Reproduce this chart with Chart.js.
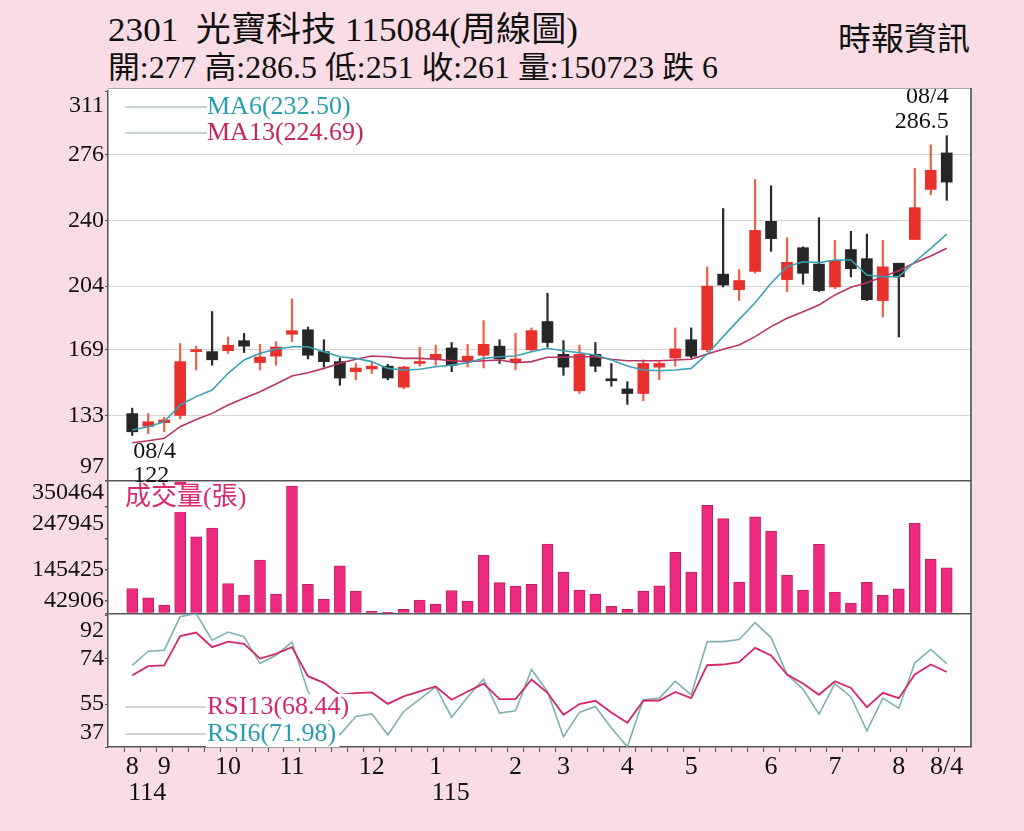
<!DOCTYPE html>
<html><head><meta charset="utf-8">
<script src="https://cdn.jsdelivr.net/npm/chart.js@4.4.1/dist/chart.umd.min.js"></script>
<style>
html,body{margin:0;padding:0;background:#f9dce6;}
body{width:1024px;height:831px;position:relative;overflow:hidden;font-family:"Liberation Serif","Noto Sans CJK TC",serif;}
#c{position:absolute;left:0;top:0;width:1024px;height:831px;}
.t{position:absolute;white-space:nowrap;color:#111;transform-origin:0 0;}
#t1{left:108px;top:11px;font-size:34px;line-height:38px;}
#t2{left:108px;top:50px;font-size:31px;line-height:36px;}
#t3{left:838px;top:20px;font-size:32px;line-height:38px;}
</style></head><body>
<div class="t" id="t1">2301&nbsp;&nbsp;光寶科技 115084(周線圖)</div>
<div class="t" id="t2">開:277 高:286.5 低:251 收:261 量:150723 跌 6</div>
<div class="t" id="t3">時報資訊</div>
<canvas id="c" width="1024" height="831"></canvas>
<script>
// ---- data (weekly, 114/08/04 .. 115/08/04) ----
const open  = [134,127,129,133,168,168,168.5,174,162,165.5,177.5,180,168,162.5,157,158.5,160,148.5,161.5,164,170,162.5,166,171,162.5,169,184.5,166.5,146.5,166.5,153,147.5,145,159.5,164.5,174.5,169,210.5,202,212,239.5,207.5,225,216,203.5,224,219,196,216.5,229.5,257,277];
const high  = [137,134,132,172.5,171,190,176,178,172,173.5,197,181.5,174.5,164.5,161.5,162.5,161,160,170.5,171.5,173,172,185,174.5,178,181,200,174,171.5,173,161.5,151.5,163.5,162.5,181,181,214.5,246.5,213,262.5,259,230.5,225.5,241.5,229,234,232.5,229,216.5,268.5,281.5,286.5];
const low   = [122,123,124,131,158,160.5,167,167.5,158,160.5,173.5,164,159.5,149.5,152.5,156,152.5,147.5,160,160.5,157,159.5,159,161.5,158,168,170.5,155,145,157,149,139,141,152.5,160,164.5,168,203.5,196,211,223,201,205,201,202.5,209,196,187,176,229.5,254,251];
const close = [124,129.5,130.5,162.5,169,163.5,171.5,171,165,170.5,179.5,166,162.5,153.5,159,160,153.5,159.5,162.5,166.5,160.5,165.5,172,164,164,179.5,173,159.5,166.5,160,152,145,161.5,161.5,169.5,165.5,204,204.5,207,234.5,230,217,211,201.5,218,213.5,196.5,214.5,209,247,267.5,261];
const ma6   = [125,126.8,129.5,138.7,143.3,146.9,156.1,163.4,167.1,169.3,170.7,170.7,167.9,165.2,164.3,162.5,158.8,157.9,158.3,159.7,160.6,161.9,164.3,165.2,165.6,167.9,169.8,168.5,167.4,166.1,163.4,160.1,157.9,157.5,157.9,158.8,166.7,176.2,185.7,194.8,205.5,214.6,217.3,216.8,218.3,218.3,210,209.1,209.1,217.3,224.7,232.5];
const ma13  = [118,119.1,120.4,126.8,130.8,134.1,138.7,142.4,146,150.2,154.6,156.4,158.8,161.6,163.8,165.6,165.2,164.3,164.3,163.8,163,162.5,163,163.4,161.9,162.5,164.9,164.9,165.2,165.2,163.8,163,163,163,163.4,163.8,166.7,169.3,171.6,176.2,181.7,186.3,189.9,193.6,199.1,203.3,205.8,209.1,212.4,216.8,220.5,224.69];
const volume= [82500,51500,27500,434000,253000,282000,99000,60000,176000,64000,420000,96000,47000,157000,74000,7600,5000,14000,44000,31000,76000,41000,192000,102000,90000,96000,229000,137000,77000,64000,24000,14000,74000,91000,202000,137000,357000,313000,104000,319000,272000,126000,77000,228000,71000,34000,103000,60000,81000,297000,179000,150723];
const rsi13 = [67.1,70.9,71.2,83.5,85,78.9,81.2,80.3,74.1,76.1,78.9,66.7,63.9,58.9,59.6,59.9,55.1,58.2,60.3,62.4,56.8,60.3,63.6,57.1,57.1,65.3,59.7,50.5,55,56.4,51.5,47.2,56.4,56.5,60.1,57.5,71.3,71.6,72.6,78.6,75.4,67.4,63.6,58.9,64.6,61.8,53.7,59.7,57.5,67.4,71.6,68.44];
const rsi6  = [71.2,77.2,77.6,91.7,93,81.8,85.2,83.3,72,75.5,81,60.3,51,42.1,49.8,50.9,42.1,51.9,57.1,62.2,49.5,58,65.4,51.2,52.2,69.5,60.3,41.3,51.5,54,45,37.1,56.8,57.5,64.5,58.9,81.2,81.2,82.1,89.2,82.9,67.4,61.3,50.8,63.6,58,43.8,57.5,53.2,72.3,77.9,71.98];

const priceTicks = [97,133,169,204,240,276,311];
const volTicks   = [42906,145425,247945,350464];
const rsiTicks   = [37,55,74,92];
const monthTickIdx = [0,2,6,10,15,19,24,27,31,35,40,44,48,51];
const monthLabels  = ['8','9','10','11','12','1','2','3','4','5','6','7','8','8/4'];
const yearTickIdx  = [0,19];
const yearLabels   = ['114','115'];
const lowNote  = ['08/4','122'];
const highNote = ['08/4','286.5'];
const maLegend  = ['MA6(232.50)','MA13(224.69)'];
const rsiLegend = ['RSI13(68.44)','RSI6(71.98)'];
const volLegend = '成交量(張)';

// ---- title fitting ----
function fitW(id,w){const el=document.getElementById(id);const r=el.getBoundingClientRect().width;el.style.transform='scaleX('+(w/r)+')';}
fitW('t1',470);fitW('t2',610);fitW('t3',132);

const FONT='"Liberation Serif","Noto Sans CJK TC",serif';
Chart.defaults.font.family=FONT;
Chart.defaults.color='#111';

const RED='#e8302c', BLK='#262626', REDW='#ee6347', BLKW='#2c2c2c';
const up = close.map((c,i)=>c>=open[i]);
const pts = arr => arr.map((v,i)=>({x:i,y:v}));

function edgeLabel(ticks){
  return v => v===ticks[ticks.length-1] ? ['',String(v)] : (v===ticks[0] ? [String(v),''] : String(v));
}

const overlay = {
  id:'overlay',
  beforeDraw(chart){
    const {ctx,chartArea:a}=chart;
    ctx.save();ctx.fillStyle='#fff';
    ctx.fillRect(a.left,a.top-3,a.right-a.left,a.bottom-a.top+3);
    ctx.restore();
  },
  afterDatasetsDraw(chart){
    const {ctx,chartArea:a,scales}=chart;
    const xs=scales.x, yP=scales.yP, yV=scales.yV, yR=scales.yR;
    ctx.save();
    ctx.textBaseline='middle';
    // MA legend
    const maCol=['#2a9db0','#c8245c'];
    [a.top+16,a.top+42].forEach((y,k)=>{
      ctx.strokeStyle='#b9c4c6';ctx.lineWidth=1.5;
      ctx.beginPath();ctx.moveTo(a.left+17,y);ctx.lineTo(a.left+99,y);ctx.stroke();
      ctx.font='26px '+FONT;ctx.fillStyle=maCol[k];ctx.textAlign='left';
      ctx.fillText(maLegend[k],a.left+99,y);
    });
    // low / high notes
    ctx.font='24px '+FONT;ctx.fillStyle='#111';
    const iLo=low.indexOf(Math.min(...low)), iHi=high.indexOf(Math.max(...high));
    const xl=xs.getPixelForValue(iLo), yl=yP.getPixelForValue(low[iLo]);
    ctx.textAlign='left';
    ctx.fillText(lowNote[0],xl+1,yl+16);ctx.fillText(lowNote[1],xl+1,yl+40);
    const xh=xs.getPixelForValue(iHi), yh=yP.getPixelForValue(high[iHi]);
    ctx.textAlign='right';
    ctx.fillText(highNote[0],xh+2,yh-39);ctx.fillText(highNote[1],xh+2,yh-14);
    // volume legend
    ctx.font='26px '+FONT;ctx.textAlign='left';
    let w=ctx.measureText(volLegend).width;
    ctx.fillStyle='#fff';ctx.fillRect(a.left+14,yV.top+4,w+6,27);
    ctx.fillStyle='#d82a6c';ctx.fillText(volLegend,a.left+17,yV.top+17);
    // RSI legend
    const rCol=['#d3296b','#2a9db0'];
    [yR.bottom-40,yR.bottom-13].forEach((y,k)=>{
      ctx.strokeStyle='#c4c4c4';ctx.lineWidth=1.5;
      ctx.beginPath();ctx.moveTo(a.left+17,y);ctx.lineTo(a.left+99,y);ctx.stroke();
      ctx.font='26px '+FONT;
      const tw=ctx.measureText(rsiLegend[k]).width;
      ctx.fillStyle='#fff';ctx.fillRect(a.left+98,y-13,tw+4,26);
      ctx.fillStyle=rCol[k];ctx.fillText(rsiLegend[k],a.left+99,y);
    });
    ctx.restore();
  },
  afterDraw(chart){
    const {ctx,chartArea:a,scales}=chart;
    ctx.save();
    ctx.strokeStyle='#a8a8a8';ctx.lineWidth=1;
    ctx.beginPath();ctx.moveTo(a.left,a.top-2.5);ctx.lineTo(a.right,a.top-2.5);ctx.stroke();
    ctx.strokeStyle='#444';ctx.lineWidth=1.5;
    ctx.beginPath();ctx.moveTo(a.right,a.top-3);ctx.lineTo(a.right,a.bottom);ctx.stroke();
    // year labels
    ctx.font='26px '+FONT;ctx.fillStyle='#111';ctx.textAlign='left';ctx.textBaseline='middle';
    yearTickIdx.forEach((ix,k)=>{
      ctx.fillText(yearLabels[k],scales.x.getPixelForValue(ix)-4,a.bottom+46);
    });
    ctx.restore();
  }
};

new Chart(document.getElementById('c'),{
  type:'bar',
  data:{datasets:[
    {type:'line',label:'MA6',data:pts(ma6),yAxisID:'yP',borderColor:'#3aa2b4',borderWidth:1.6,pointRadius:0,order:0},
    {type:'line',label:'MA13',data:pts(ma13),yAxisID:'yP',borderColor:'#b83462',borderWidth:1.6,pointRadius:0,order:0},
    {type:'bar',label:'body',data:open.map((o,i)=>({x:i,y:[o,close[i]]})),yAxisID:'yP',backgroundColor:up.map(u=>u?RED:BLK),barThickness:11,grouped:false,minBarLength:2,order:1},
    {type:'bar',label:'wick',data:low.map((l,i)=>({x:i,y:[l,high[i]]})),yAxisID:'yP',backgroundColor:up.map(u=>u?REDW:BLKW),barThickness:1.6,grouped:false,order:2},
    {type:'bar',label:'vol',data:pts(volume),yAxisID:'yV',backgroundColor:'#ee2a7e',borderColor:'#b8206a',borderWidth:1,barThickness:11,grouped:false,order:1},
    {type:'line',label:'RSI13',data:pts(rsi13),yAxisID:'yR',borderColor:'#d3296b',borderWidth:1.8,pointRadius:0,order:0},
    {type:'line',label:'RSI6',data:pts(rsi6),yAxisID:'yR',borderColor:'#7db1b3',borderWidth:1.6,pointRadius:0,order:0}
  ]},
  options:{
    responsive:false,animation:false,
    layout:{padding:{left:0,right:53,top:91,bottom:0}},
    plugins:{legend:{display:false},tooltip:{enabled:false}},
    scales:{
      x:{type:'linear',position:'bottom',min:-1,max:52,
        afterBuildTicks:s=>{s.ticks=close.map((_,i)=>({value:i}));},
        afterFit:s=>{s.height=84;},
        ticks:{autoSkip:false,maxRotation:0,padding:0,font:{size:26},
          callback:v=>{const k=monthTickIdx.indexOf(v);return k>=0?monthLabels[k]:'';}},
        grid:{drawOnChartArea:false,drawTicks:true,tickLength:5,color:'#555'},
        border:{color:'#555',width:1.5}},
      yR:{type:'linear',position:'left',stack:'s',stackWeight:133.5,min:37,max:93,
        afterBuildTicks:s=>{s.ticks=rsiTicks.map(v=>({value:v}));},
        afterFit:s=>{s.width=108;},
        ticks:{autoSkip:false,font:{size:24},padding:1,callback:edgeLabel(rsiTicks)},
        grid:{color:'rgba(0,0,0,0)',tickColor:'#555',tickLength:3},
        border:{color:'#555',width:1.5}},
      yV:{type:'linear',position:'left',stack:'s',stackWeight:132.5,min:0,max:437000,
        afterBuildTicks:s=>{s.ticks=[0].concat(volTicks).map(v=>({value:v}));},
        afterFit:s=>{s.width=108;},
        ticks:{autoSkip:false,font:{size:24},padding:1,
          callback:v=>v===0?'':(v>=volTicks[2]?[String(v),'']:String(v))},
        grid:{color:c=>(c.tick&&c.tick.value===0)?'#555':'rgba(0,0,0,0)',lineWidth:1.5,tickColor:'#555',tickLength:3},
        border:{color:'#555',width:1.5}},
      yP:{type:'linear',position:'left',stack:'s',stackWeight:390,min:97,max:311,
        afterBuildTicks:s=>{s.ticks=priceTicks.map(v=>({value:v}));},
        afterFit:s=>{s.width=108;},
        ticks:{autoSkip:false,font:{size:24},padding:1,callback:edgeLabel(priceTicks)},
        grid:{color:c=>{const v=c.tick&&c.tick.value;return v===priceTicks[0]?'#555':(v===priceTicks[priceTicks.length-1]?'rgba(0,0,0,0)':'#d6d6d6');},
          lineWidth:c=>(c.tick&&c.tick.value===priceTicks[0])?1.5:1,tickColor:'#555',tickLength:3},
        border:{color:'#555',width:1.5}}
    }
  },
  plugins:[overlay]
});
</script>
</body></html>
